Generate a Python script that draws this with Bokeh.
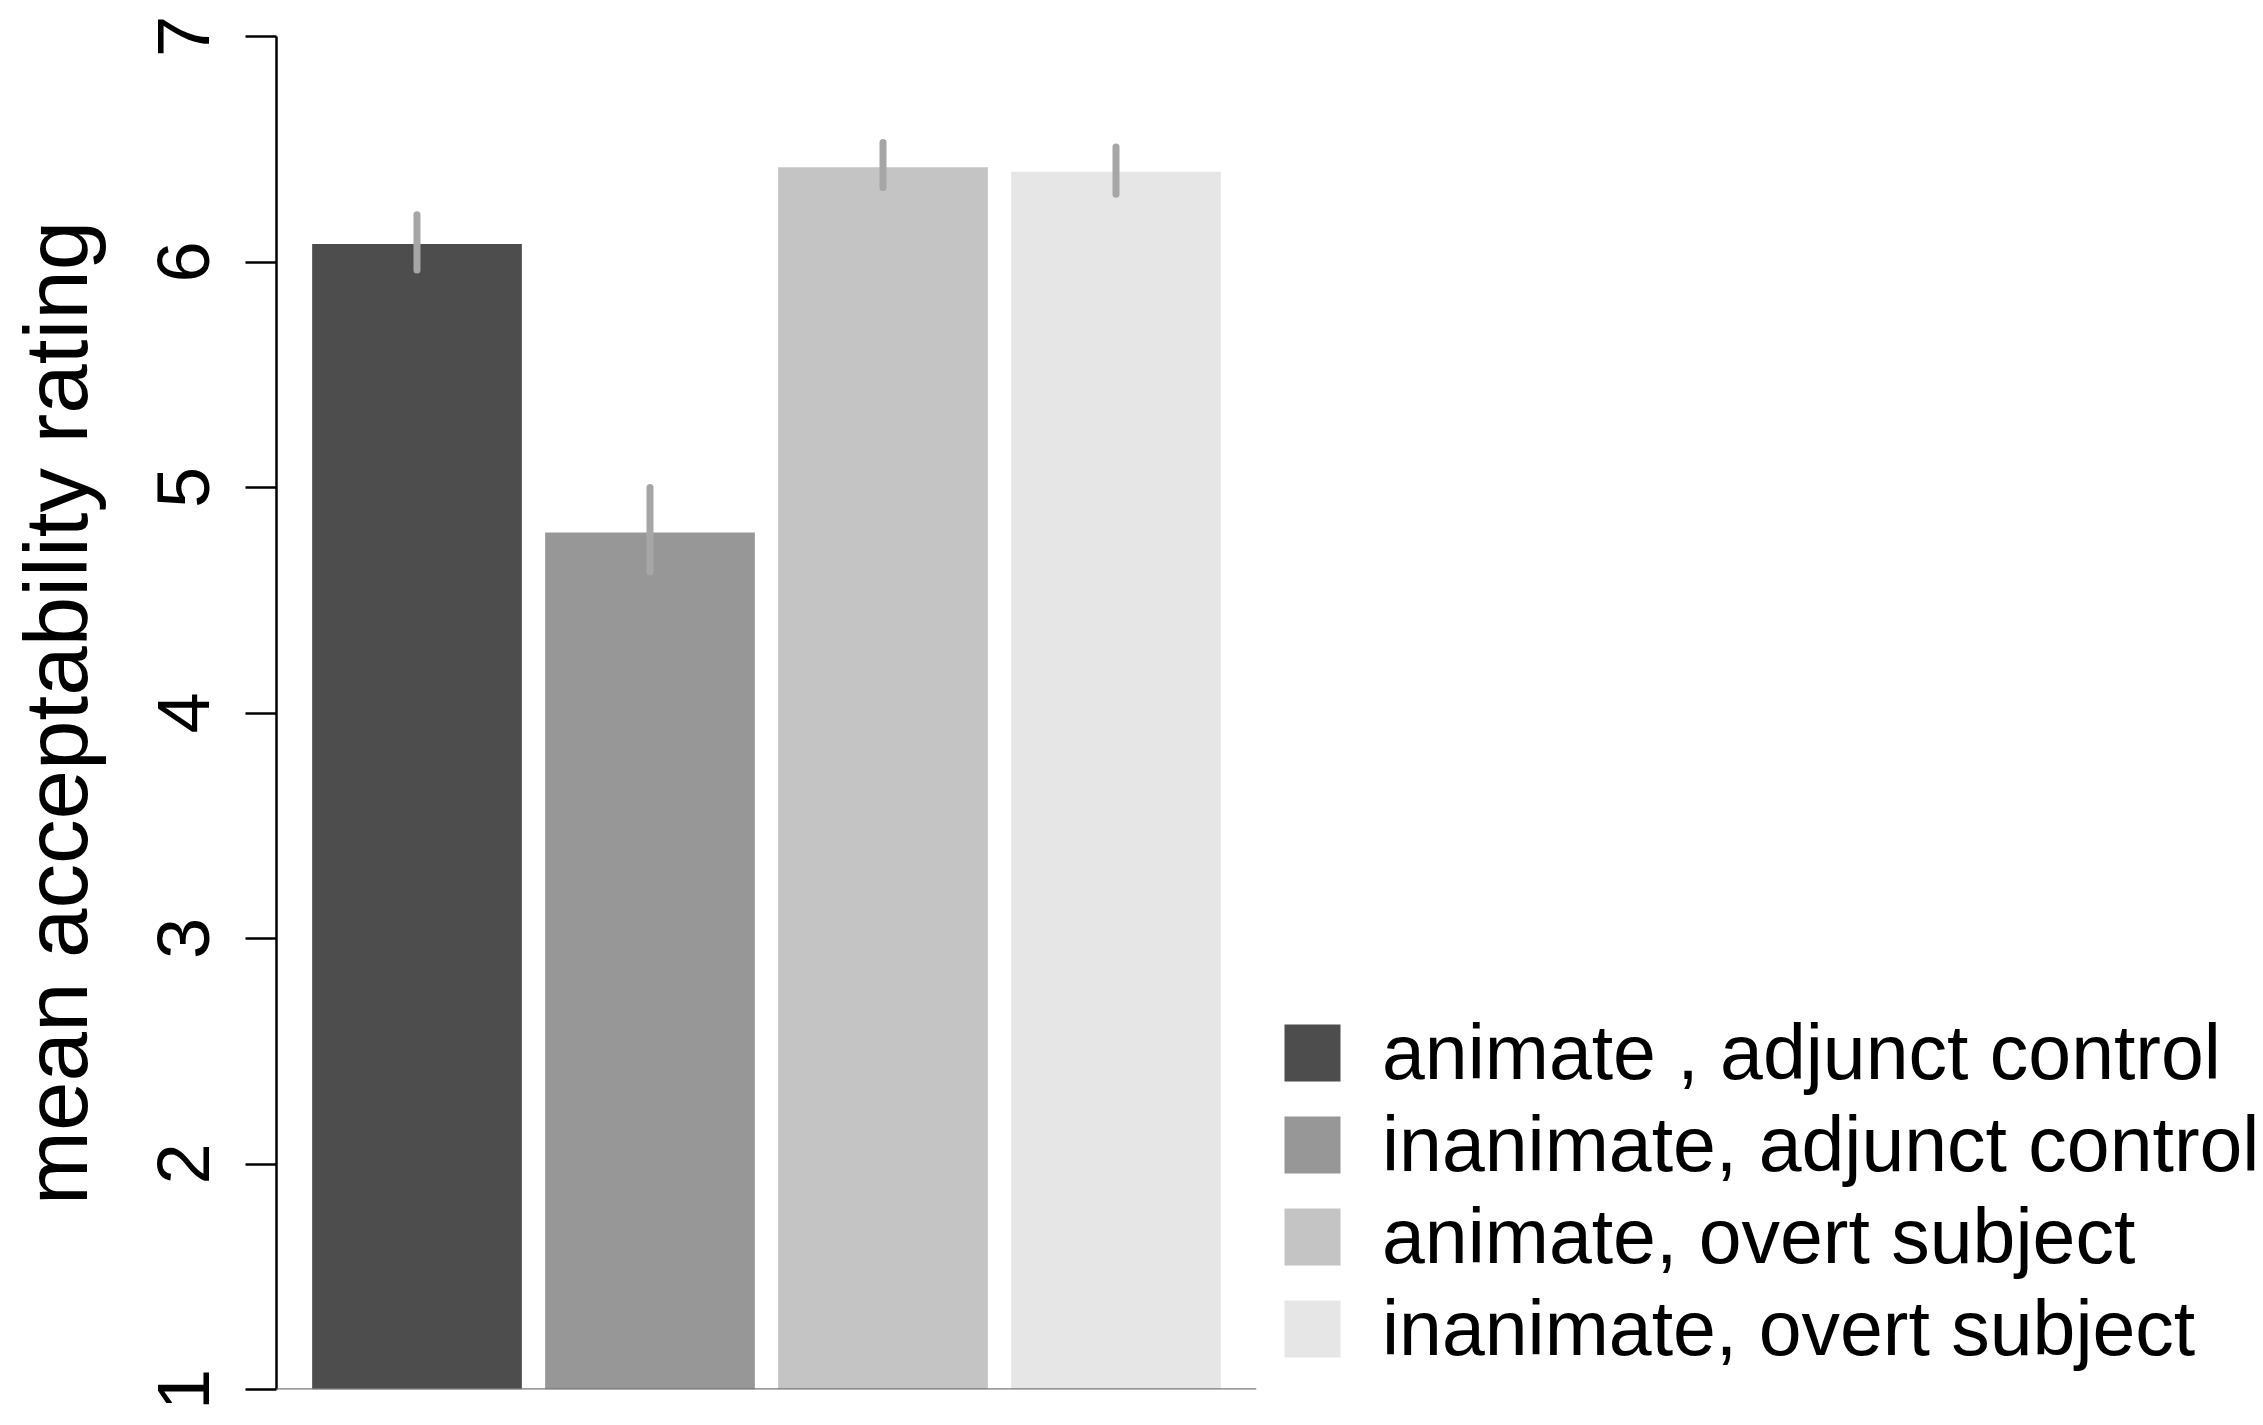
from bokeh.plotting import figure
from bokeh.models import FactorRange, Range1d, FixedTicker, Legend, LegendItem, Span
from bokeh.embed import file_html
from bokeh.resources import INLINE

# ---- data ----
conditions = ["animate , adjunct control", "inanimate, adjunct control",
              "animate, overt subject", "inanimate, overt subject"]
means = [6.08, 4.80, 6.42, 6.40]
err_low = [5.965, 4.625, 6.33, 6.30]
err_high = [6.21, 5.00, 6.53, 6.51]
colors = ["#4D4D4D", "#979797", "#C4C4C4", "#E6E6E6"]
y_ticks = [1, 2, 3, 4, 5, 6, 7]
y_label = "mean acceptability rating"

FONT = "Liberation Sans"

p = figure(frame_width=980, frame_height=1353, output_backend="svg", toolbar_location=None,
           x_range=FactorRange(factors=conditions, range_padding=0.103,
                               range_padding_units="absolute"),
           y_range=Range1d(1, 7),
           min_border_left=276, min_border_right=0,
           min_border_top=36, min_border_bottom=30)
p.outline_line_color = None
p.grid.visible = False
p.xaxis.visible = False
p.background_fill_color = "white"

bars = p.vbar(x=conditions, top=means, bottom=1, width=0.9,
              fill_color=colors, line_color=None)
p.segment(x0=conditions, y0=err_low, x1=conditions, y1=err_high,
          line_color="#A6A6A6", line_width=7, line_cap="round")

p.add_layout(Span(location=y_ticks[0], dimension="width",
                  line_color="#7A7A7A", line_width=2.5))

ya = p.yaxis[0]
ya.ticker = FixedTicker(ticks=y_ticks)
ya.axis_line_color = "black"
ya.axis_line_width = 2.5
ya.major_tick_line_color = "black"
ya.major_tick_line_width = 2.5
ya.major_tick_out = 31
ya.major_tick_in = 0
ya.minor_tick_line_color = None
ya.major_label_orientation = "vertical"
ya.major_label_text_font = FONT
ya.major_label_text_font_size = "74px"
ya.major_label_text_color = "black"
ya.major_label_standoff = 37
ya.axis_label = y_label
ya.axis_label_text_font = FONT
ya.axis_label_text_font_size = "89px"
ya.axis_label_text_font_style = "normal"
ya.axis_label_text_color = "black"
ya.axis_label_standoff = 49

items = [LegendItem(label=c, renderers=[bars], index=i) for i, c in enumerate(conditions)]
legend = Legend(items=items, location=(21, 16), margin=0, padding=22,
                border_line_color=None, background_fill_alpha=0,
                glyph_width=70, glyph_height=71, label_standoff=35,
                label_text_font=FONT, label_text_font_size="77px",
                label_text_color="black", spacing=3)
p.add_layout(legend, "right")

open("out.html", "w").write(file_html(p, INLINE))
